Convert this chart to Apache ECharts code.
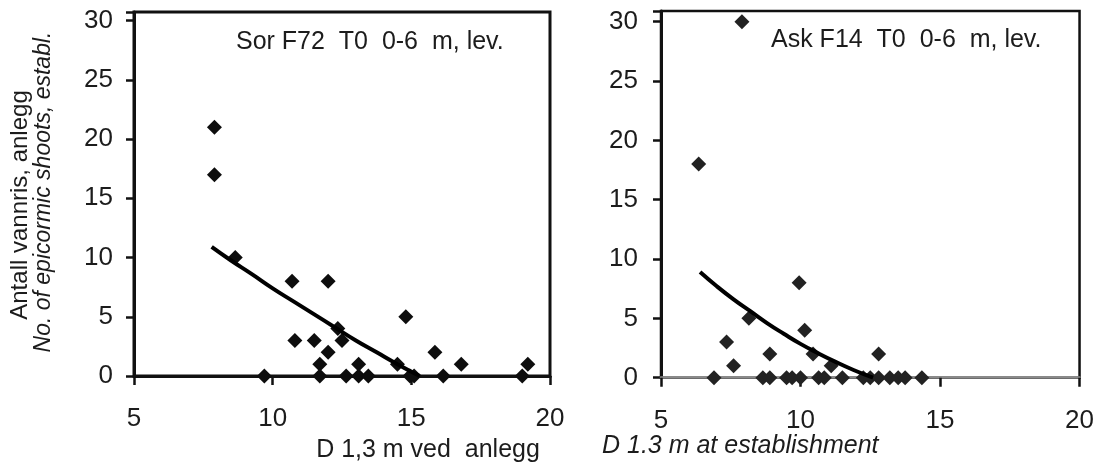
<!DOCTYPE html>
<html>
<head>
<meta charset="utf-8">
<script src="https://cdn.jsdelivr.net/npm/echarts@6/dist/echarts.min.js"></script>
<style>
html, body { margin: 0; padding: 0; background: #fff; }
#main { width: 1097px; height: 467px; }
</style>
</head>
<body>
<div id="main"></div>
<script>
// Sor F72 (left panel) - diameter vs number of epicormic shoots
var sorX = [7.9, 7.9, 8.65, 9.7, 10.7, 10.8, 11.5, 11.7, 11.7, 12.0, 12.0, 12.35, 12.5, 12.65, 13.1, 13.1, 13.45, 14.5, 14.8, 14.95, 15.1, 15.85, 16.15, 16.8, 19.0, 19.2];
var sorY = [21, 17, 10, 0, 8, 3, 3, 1, 0, 2, 8, 4, 3, 0, 1, 0, 0, 1, 5, 0, 0, 2, 0, 1, 0, 1];
// trend line, points
var sorFitX = [7.8, 8.5, 9.25, 10.0, 10.75, 11.5, 12.25, 13.0, 13.75, 14.5, 15.3];
var sorFitY = [10.9, 9.75, 8.6, 7.4, 6.3, 5.2, 4.1, 3.0, 2.0, 1.0, 0.0];

// Ask F14 (right panel)
var askX = [6.35, 7.9, 6.9, 7.35, 7.6, 8.15, 8.65, 8.9, 8.9, 9.5, 9.7, 9.95, 10.0, 10.15, 10.45, 10.65, 10.85, 11.1, 11.5, 12.25, 12.5, 12.8, 12.8, 13.2, 13.5, 13.75, 14.35];
var askY = [18, 30, 0, 3, 1, 5, 0, 2, 0, 0, 0, 8, 0, 4, 2, 0, 0, 1, 0, 0, 0, 2, 0, 0, 0, 0, 0];
var askFitX = [6.4, 7.0, 7.6, 8.2, 8.8, 9.4, 10.0, 10.6, 11.2, 11.9, 12.6];
var askFitY = [8.9, 7.7, 6.6, 5.6, 4.6, 3.7, 2.85, 2.1, 1.4, 0.65, 0.0];

var panelTitles = ['Sor F72  T0  0-6  m, lev.', 'Ask F14  T0  0-6  m, lev.'];

function pairs(xs, ys) {
    var out = [];
    for (var i = 0; i < xs.length; i++) out.push([xs[i], ys[i]]);
    return out;
}

var font = "'Liberation Sans', Arial, sans-serif";
var textCol = '#1c1c1c';

function xAxisOpt(idx, lineCol, lineW) {
    return {
        type: 'value', gridIndex: idx, min: 5, max: 20, interval: 5,
        z: 5,
        axisLine: {onZero: false, lineStyle: {color: lineCol, width: lineW}},
        axisTick: {show: true, inside: false, length: 9, lineStyle: {color: '#111', width: 2.5}},
        axisLabel: {color: textCol, fontSize: 26, fontFamily: font, margin: 30},
        splitLine: {show: false}
    };
}
function yAxisOpt(idx, max, margin) {
    return {
        type: 'value', gridIndex: idx, min: 0, max: max, interval: 5,
        axisLine: {show: true, lineStyle: {color: '#111', width: 3}},
        axisTick: {show: true, inside: false, length: 8, lineStyle: {color: '#111', width: 2.5}},
        axisLabel: {
            color: textCol, fontSize: 26, fontFamily: font, margin: margin,
            formatter: function (v) { return v % 5 === 0 ? v : ''; }
        },
        splitLine: {show: false}
    };
}

var myChart = echarts.init(document.getElementById('main'));
var option = {
    animation: false,
    grid: [
        {left: 134, top: 12, width: 416, height: 364, show: true, borderColor: '#111', borderWidth: 3},
        {left: 661, top: 11, width: 419, height: 366.7, show: true, borderColor: '#111', borderWidth: 2.5}
    ],
    xAxis: [xAxisOpt(0, '#111', 3), xAxisOpt(1, '#8a8a8a', 2.5)],
    yAxis: [yAxisOpt(0, 30.73, 21), yAxisOpt(1, 30.9, 23)],
    series: [
        {
            type: 'scatter', xAxisIndex: 0, yAxisIndex: 0, z: 10,
            symbol: 'diamond', symbolSize: 15,
            itemStyle: {color: '#0d0d0d', opacity: 1},
            data: pairs(sorX, sorY)
        },
        {
            type: 'line', xAxisIndex: 0, yAxisIndex: 0, z: 11,
            smooth: true, showSymbol: false,
            lineStyle: {color: '#000', width: 4},
            data: pairs(sorFitX, sorFitY)
        },
        {
            type: 'scatter', xAxisIndex: 1, yAxisIndex: 1, z: 10,
            symbol: 'diamond', symbolSize: 15,
            itemStyle: {color: '#222', opacity: 1},
            data: pairs(askX, askY)
        },
        {
            type: 'line', xAxisIndex: 1, yAxisIndex: 1, z: 11,
            smooth: true, showSymbol: false,
            lineStyle: {color: '#000', width: 4},
            data: pairs(askFitX, askFitY)
        }
    ],
    graphic: [
        {type: 'text', left: 236, top: 30, style: {text: panelTitles[0], fill: textCol, font: '25px ' + font}},
        {type: 'text', left: 771, top: 28, style: {text: panelTitles[1], fill: textCol, font: '25px ' + font}},
        {type: 'text', x: 428, y: 450, style: {text: 'D 1,3 m ved  anlegg', fill: textCol, font: '25px ' + font, align: 'center', verticalAlign: 'middle'}},
        {type: 'text', x: 602, y: 446, style: {text: 'D 1.3 m at establishment', fill: textCol, font: 'italic 25px ' + font, align: 'left', verticalAlign: 'middle'}},
        {type: 'text', x: 20, y: 205, rotation: Math.PI / 2, style: {text: 'Antall vannris, anlegg', fill: textCol, font: '24px ' + font, align: 'center', verticalAlign: 'middle'}},
        {type: 'text', x: 44, y: 192, rotation: Math.PI / 2, style: {text: 'No. of epicormic shoots, establ.', fill: textCol, font: 'italic 23px ' + font, align: 'center', verticalAlign: 'middle'}}
    ]
};
if (option && typeof option === 'object') {
    myChart.setOption(option);
}
</script>
</body>
</html>
